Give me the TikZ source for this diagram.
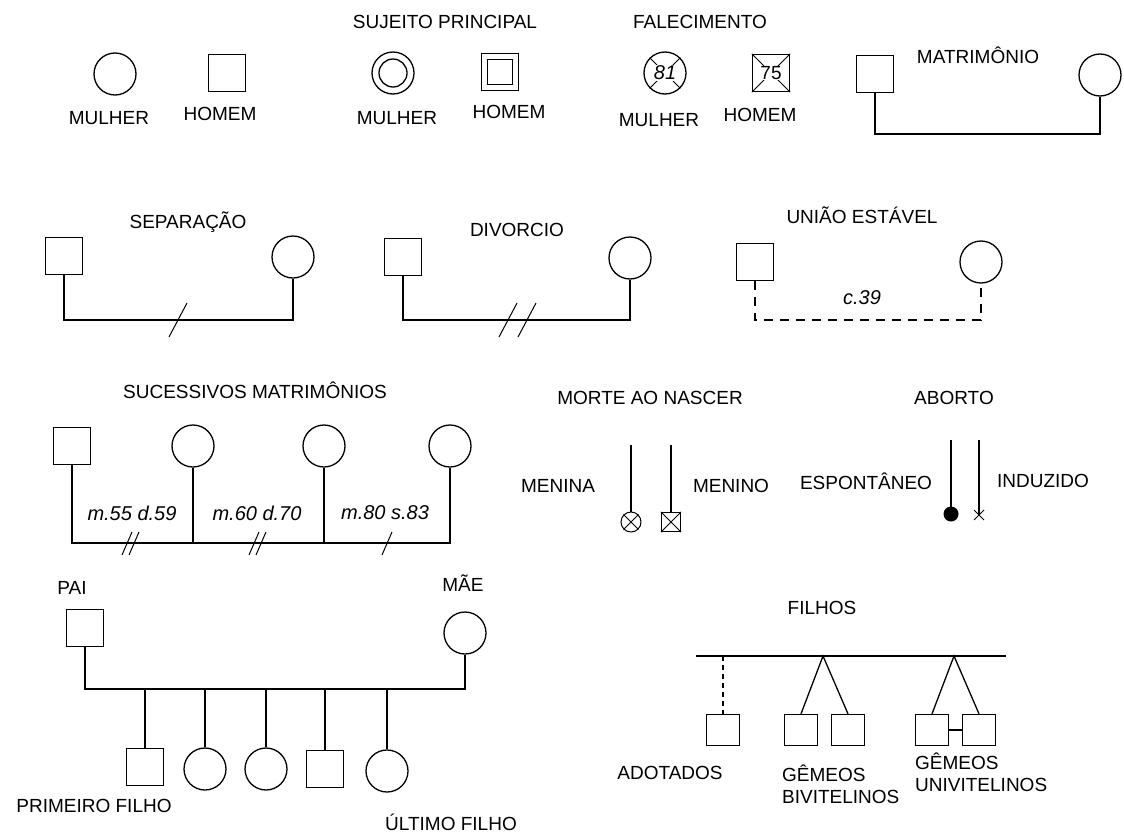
\documentclass[tikz,border=0pt]{standalone}
\usepackage{fontspec}
\setmainfont{Liberation Sans}
\usepackage{tikz}
\usetikzlibrary{positioning,calc,shapes.misc}
\newcommand{\rotfont}{\fontsize{19}{22}\selectfont}
\newcommand{\datfont}{\fontsize{20}{22}\selectfont\itshape}
\tikzset{
  homem/.style={draw,line width=1.3pt,minimum size=37pt,inner sep=0pt},
  mulher/.style={draw,circle,line width=1.3pt,minimum size=42pt,inner sep=0pt},
  filho/.style={draw,line width=1.3pt,minimum width=33pt,minimum height=31pt,inner sep=0pt},
  txt/.style={font=\rotfont,inner sep=1pt},
  dat/.style={font=\datfont,inner sep=1pt},
  rel/.style={line width=1.3pt},
  tracej/.style={line width=1.3pt,dash pattern=on 9pt off 7pt},
  corte/.style={line width=1pt},
}
\begin{document}
\begin{tikzpicture}[x=1pt,y=-1pt]
  \useasboundingbox[fill=white] (0,0) rectangle (1124,835);

  % simbolos basicos
  \node[mulher] (mu) at (115,74) {};
  \node[txt] (mul) at (109,118) {MULHER};
  \node[homem] (ho) at (227,73) {};
  \node[txt] (hol) at (220,114) {HOMEM};

  % sujeito principal
  \node[txt] (spl) at (445,22) {SUJEITO PRINCIPAL};
  \node[mulher] (spm) at (393,73) {};
  \node[draw,circle,line width=1.3pt,minimum size=28pt] (spmi) at (spm) {};
  \node[txt] (spml) at (397,118) {MULHER};
  \node[homem] (sph) at (500,72) {};
  \node[draw,line width=1.3pt,minimum size=25pt] (sphi) at (sph) {};
  \node[txt] (sphl) at (509,112) {HOMEM};

  % falecimento
  \node[txt] (fal) at (700,22) {FALECIMENTO};
  \node[mulher] (fm) at (665,73) {};
  \draw[corte] (fm.45) -- (fm.225) (fm.135) -- (fm.315);
  \node[dat,fill=white,inner sep=0.5pt] (fmn) at (fm) {81};
  \node[txt] (fml) at (659,120) {MULHER};
  \node[homem] (fh) at (771,73) {};
  \draw[corte] (fh.north west) -- (fh.south east) (fh.north east) -- (fh.south west);
  \node[txt,fill=white,inner sep=0.5pt] (fhn) at (fh) {75};
  \node[txt] (fhl) at (760,115) {HOMEM};

  % matrimonio
  \node[txt] (mal) at (978,55) {MATRIMÔNIO};
  \node[homem] (mah) at (875,74) {};
  \node[mulher] (mam) at (1100,75) {};
  \coordinate (maA) at (mah.south |- 0,134);
  \coordinate (maB) at (mam.south |- 0,134);
  \draw[rel] (mah.south) -- (maA) -- (maB) -- (mam.south);

  % separacao
  \node[txt] (sel) at (188,222) {SEPARAÇÃO};
  \node[homem] (seh) at (64,256) {};
  \node[mulher] (sem) at (293,257) {};
  \coordinate (seA) at (seh.south |- 0,320);
  \coordinate (seB) at (sem.south |- 0,320);
  \draw[rel] (seh.south) -- (seA) -- (seB) -- (sem.south);
  \coordinate (seX) at (178,320);
  \draw[corte] ([shift={(-9,17)}]seX) -- ([shift={(9,-17)}]seX);

  % divorcio
  \node[txt] (dil) at (517,230) {DIVORCIO};
  \node[homem] (dih) at (403,257) {};
  \node[mulher] (dim) at (630,258) {};
  \coordinate (diA) at (dih.south |- 0,320);
  \coordinate (diB) at (dim.south |- 0,320);
  \draw[rel] (dih.south) -- (diA) -- (diB) -- (dim.south);
  \foreach \xx in {508,527}
    \draw[corte] (\xx-9,337) -- (\xx+9,303);

  % uniao estavel
  \node[txt] (uel) at (862,215) {UNIÃO ESTÁVEL};
  \node[homem] (ueh) at (755,262) {};
  \node[mulher] (uem) at (981,262) {};
  \coordinate (ueA) at (ueh.south |- 0,320);
  \coordinate (ueB) at (uem.south |- 0,320);
  \draw[tracej] (ueh.south) -- (ueA) -- (ueB) -- (uem.south);
  \node[dat] (uen) at (862,298) {c.39};

  % sucessivos matrimonios
  \node[txt] (sul) at (255,390) {SUCESSIVOS MATRIMÔNIOS};
  \node[homem] (suh) at (72,446) {};
  \node[mulher] (su1) at (193,446) {};
  \node[mulher] (su2) at (324,446) {};
  \node[mulher] (su3) at (450,446) {};
  \coordinate (suA) at (suh.south |- 0,543);
  \coordinate (suB) at (su3.south |- 0,543);
  \draw[rel] (suh.south) -- (suA) -- (suB) -- (su3.south);
  \draw[rel] (su1.south) -- (su1.south |- suA);
  \draw[rel] (su2.south) -- (su2.south |- suA);
  \node[dat] (sud1) at (132,513) {m.55 d.59};
  \node[dat] (sud2) at (257,513) {m.60 d.70};
  \node[dat] (sud3) at (385,513) {m.80 s.83};
  \foreach \xx in {127,134,254,261,387}
    \draw[corte] (\xx-5,555) -- (\xx+5,532);

  % morte ao nascer
  \node[txt] (mnl) at (650,398) {MORTE AO NASCER};
  \node[draw,circle,line width=1pt,minimum size=20pt,inner sep=0pt] (mna) at (631,522) {};
  \draw[corte] (mna.45) -- (mna.225) (mna.135) -- (mna.315);
  \node[draw,line width=1.3pt,minimum size=19pt,inner sep=0pt] (mno) at (671,522) {};
  \draw[corte] (mno.north west) -- (mno.south east) (mno.north east) -- (mno.south west);
  \coordinate (mnaT) at (631,445);
  \coordinate (mnoT) at (671,445);
  \draw[rel] (mnaT) -- (mna.north);
  \draw[rel] (mnoT) -- (mno.north);
  \node[txt] (mnal) at (558,486) {MENINA};
  \node[txt] (mnol) at (731,486) {MENINO};

  % aborto
  \node[txt] (abl) at (954,398) {ABORTO};
  \node[circle,fill=black,minimum size=15pt,inner sep=0pt] (abe) at (951,514) {};
  \node[cross out,draw,line width=1pt,minimum size=9pt,inner sep=0pt] (abi) at (979,515) {};
  \coordinate (abeT) at (951,440);
  \coordinate (abiT) at (979,440);
  \draw[rel] (abeT) -- (abe.center);
  \draw[rel] (abiT) -- (abi.center);
  \node[txt] (abel) at (866,481) {ESPONTÂNEO};
  \node[txt] (abil) at (1043,481) {INDUZIDO};

  % pais e filhos
  \node[txt] (pal) at (72,588) {PAI};
  \node[txt] (mael) at (463,583) {MÃE};
  \node[homem] (pai) at (85,628) {};
  \node[mulher] (mae) at (465,633) {};
  \coordinate (paA) at (pai.south |- 0,689);
  \coordinate (paB) at (mae.south |- 0,689);
  \draw[rel] (pai.south) -- (paA) -- (paB) -- (mae.south);
  \node[homem] (f1) at (145,767) {};
  \node[mulher] (f2) at (205,769) {};
  \node[mulher] (f3) at (266,769) {};
  \node[homem] (f4) at (325,769) {};
  \node[mulher] (f5) at (387,771) {};
  \foreach \f in {f1,f2,f3,f4,f5}
    \draw[rel] (\f.north |- paA) -- (\f.north);
  \node[txt] (f1l) at (94,806) {PRIMEIRO FILHO};
  \node[txt] (f5l) at (451,822) {ÚLTIMO FILHO};

  % filhos
  \node[txt] (fil) at (822,608) {FILHOS};
  \coordinate (fiA) at (696,656);
  \coordinate (fiB) at (1006,656);
  \draw[rel] (fiA) -- (fiB);
  \node[filho] (ad) at (723,730) {};
  \draw[tracej,dash pattern=on 5pt off 4pt] (ad.north |- fiA) -- (ad.north);
  \node[filho] (gb1) at (801,730) {};
  \node[filho] (gb2) at (848,730) {};
  \coordinate (gbT) at (823,656);
  \draw[rel] (gb1.north) -- (gbT) -- (gb2.north);
  \node[filho] (gu1) at (932,730) {};
  \node[filho] (gu2) at (979,730) {};
  \coordinate (guT) at (954,656);
  \draw[rel] (gu1.north) -- (guT) -- (gu2.north);
  \draw[rel] (gu1.east) -- (gu2.west);
  \node[txt] (adl) at (670,773) {ADOTADOS};
  \node[txt,align=left,anchor=north west] (gbl) at (781,764) {GÊMEOS\\BIVITELINOS};
  \node[txt,align=left,anchor=north west] (gul) at (914,752) {GÊMEOS\\UNIVITELINOS};
\end{tikzpicture}
\end{document}
